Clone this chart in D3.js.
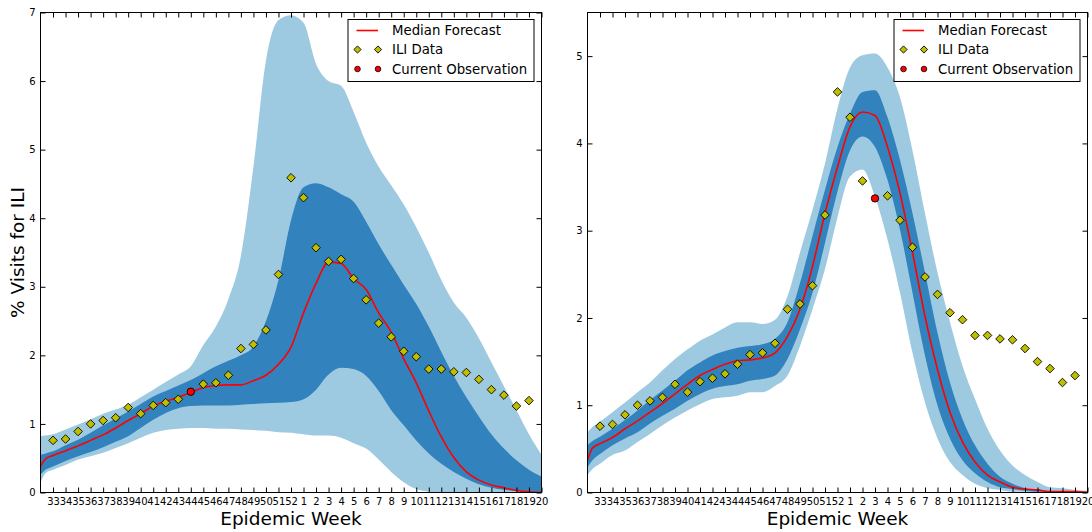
<!DOCTYPE html>
<html>

<head>
    <meta http-equiv="Content-Type" content="text/html;" charset="utf-8">
    <script type="text/javascript" src="https://cdn.jsdelivr.net/npm/d3@7/dist/d3.min.js"></script>
    <style>
        body { margin: 0; background: #fff; }
        text { font-family: "DejaVu Sans", sans-serif; }
    </style>
</head>

<body>
    <div class="chart-div"></div>
    <script type="text/javascript">

        var width = 1092;
        var height = 532;

        //--------------------------------------------DATA

        var weekLabels = ["33", "34", "35", "36", "37", "38", "39", "40", "41", "42", "43", "44", "45", "46",
            "47", "48", "49", "50", "51", "52", "1", "2", "3", "4", "5", "6", "7", "8", "9", "10", "11", "12",
            "13", "14", "15", "16", "17", "18", "19", "20"];

        // ILI data, weeks 33 .. 19
        var iliData = [0.76, 0.78, 0.89, 1.00, 1.05, 1.09, 1.24, 1.15, 1.27, 1.31, 1.36, 1.47, 1.58, 1.60,
            1.71, 2.10, 2.16, 2.37, 3.18, 4.59, 4.30, 3.57, 3.37, 3.40, 3.12, 2.81, 2.47, 2.27, 2.06, 1.98,
            1.80, 1.80, 1.76, 1.75, 1.65, 1.50, 1.42, 1.26, 1.34];

        // positions of the forecast samples, in weeks from week 33
        var bandPos = [-1, -0.6, 0, 1, 2, 3, 4, 5, 6, 7, 8, 9, 10, 11, 12, 13, 14, 15, 16, 17, 18, 19, 20,
            21, 22, 23, 24, 25, 26, 27, 28, 29, 30, 31, 32, 33, 34, 35, 36, 37, 38, 39];

        // left panel (forecast from week 44)
        var leftCurrent = 11;
        var leftLow90 = [0.14, 0.28, 0.33, 0.40, 0.48, 0.53, 0.58, 0.65, 0.72, 0.80, 0.87, 0.91, 0.93, 0.94,
            0.94, 0.93, 0.93, 0.92, 0.91, 0.90, 0.88, 0.87, 0.85, 0.83, 0.83, 0.80, 0.72, 0.64, 0.48, 0.30,
            0.15, 0.05, 0.01, 0, 0, 0, 0, 0, 0, 0, 0, 0];
        var leftLow50 = [0.26, 0.33, 0.38, 0.46, 0.53, 0.59, 0.66, 0.74, 0.82, 0.94, 1.06, 1.16, 1.23, 1.26,
            1.27, 1.27, 1.27, 1.28, 1.29, 1.30, 1.31, 1.32, 1.36, 1.50, 1.72, 1.82, 1.80, 1.70, 1.48, 1.20,
            0.98, 0.76, 0.57, 0.42, 0.30, 0.20, 0.12, 0.07, 0.04, 0.02, 0.01, 0.00];
        var leftMedian = [0.38, 0.49, 0.54, 0.61, 0.68, 0.76, 0.84, 0.94, 1.05, 1.15, 1.26, 1.33, 1.39, 1.46,
            1.53, 1.56, 1.57, 1.57, 1.63, 1.71, 1.87, 2.12, 2.62, 3.05, 3.36, 3.34, 3.12, 2.96, 2.62, 2.34,
            1.95, 1.60, 1.19, 0.81, 0.51, 0.30, 0.18, 0.11, 0.07, 0.03, 0.01, 0.00];
        var leftHigh50 = [0.55, 0.57, 0.60, 0.69, 0.77, 0.87, 0.98, 1.08, 1.18, 1.29, 1.40, 1.48, 1.56, 1.64,
            1.74, 1.84, 1.92, 2.00, 2.13, 2.50, 3.10, 3.97, 4.45, 4.51, 4.45, 4.35, 4.24, 3.95, 3.62, 3.32,
            3.03, 2.75, 2.42, 2.05, 1.70, 1.39, 1.11, 0.85, 0.64, 0.47, 0.33, 0.23];
        var leftHigh90 = [0.82, 0.83, 0.85, 0.92, 0.99, 1.07, 1.15, 1.21, 1.28, 1.39, 1.50, 1.61, 1.72, 1.84,
            2.15, 2.42, 2.82, 3.45, 4.75, 6.30, 6.89, 6.96, 6.85, 6.25, 6.00, 5.93, 5.55, 5.10, 4.75, 4.48,
            4.20, 3.87, 3.50, 3.10, 2.77, 2.55, 2.25, 1.90, 1.55, 1.20, 0.85, 0.55];

        // right panel (forecast from week 3)
        var rightCurrent = 22;
        var rightLow90 = [0.20, 0.27, 0.33, 0.43, 0.48, 0.58, 0.67, 0.77, 0.86, 0.94, 1.01, 1.07, 1.09, 1.11,
            1.15, 1.15, 1.22, 1.34, 1.68, 2.10, 2.56, 3.15, 3.62, 3.70, 3.39, 2.90, 2.29, 1.60, 1.03, 0.62,
            0.35, 0.20, 0.10, 0.05, 0.03, 0.01, 0.01, 0, 0, 0, 0, 0];
        var rightLow50 = [0.29, 0.37, 0.44, 0.54, 0.62, 0.69, 0.79, 0.88, 0.96, 1.05, 1.13, 1.19, 1.22, 1.24,
            1.28, 1.30, 1.34, 1.53, 1.87, 2.29, 2.86, 3.45, 3.92, 4.08, 3.96, 3.58, 3.01, 2.29, 1.57, 1.00,
            0.62, 0.37, 0.22, 0.12, 0.06, 0.04, 0.02, 0.01, 0.01, 0, 0, 0];
        var rightMedian = [0.37, 0.51, 0.56, 0.63, 0.73, 0.82, 0.92, 1.02, 1.13, 1.24, 1.34, 1.41, 1.47, 1.51,
            1.52, 1.54, 1.60, 1.79, 2.10, 2.59, 3.20, 3.73, 4.19, 4.36, 4.32, 3.96, 3.43, 2.75, 2.02, 1.41,
            0.92, 0.58, 0.35, 0.20, 0.12, 0.06, 0.04, 0.03, 0.01, 0.01, 0.01, 0];
        var rightHigh50 = [0.54, 0.59, 0.64, 0.73, 0.83, 0.94, 1.06, 1.17, 1.28, 1.40, 1.49, 1.57, 1.62, 1.66,
            1.68, 1.70, 1.76, 1.95, 2.40, 2.94, 3.47, 3.96, 4.34, 4.59, 4.61, 4.30, 3.81, 3.20, 2.52, 1.83,
            1.26, 0.84, 0.54, 0.33, 0.18, 0.10, 0.05, 0.03, 0.02, 0.01, 0.01, 0.01];
        var rightHigh90 = [0.69, 0.75, 0.81, 0.92, 1.03, 1.15, 1.26, 1.40, 1.53, 1.64, 1.74, 1.81, 1.89, 1.95,
            1.95, 1.93, 1.98, 2.25, 2.75, 3.24, 3.77, 4.40, 4.87, 5.01, 5.03, 4.87, 4.53, 3.92, 3.20, 2.52,
            1.95, 1.45, 1.07, 0.73, 0.48, 0.31, 0.20, 0.12, 0.06, 0.05, 0.03, 0.02];

        var leftYTicks = [0, 1, 2, 3, 4, 5, 6, 7];
        var rightYTicks = [0, 1, 2, 3, 4, 5];

        var legendLabels = ["Median Forecast", "ILI Data", "Current Observation"];

        //--------------------------------------------CONTAINERS

        var svg = d3.select("div.chart-div")
            .append("svg")
            .attr("width", width)
            .attr("height", height);

        var lightBlue = "#9ecae1";
        var darkBlue = "#3182bd";
        var iliColor = "#bfbf00";

        function rows(lo90, lo50, med, hi50, hi90) {
            return bandPos.map(function (p, k) {
                return { pos: p, lo90: lo90[k], lo50: lo50[k], med: med[k], hi50: hi50[k], hi90: hi90[k] };
            });
        }

        function diamond(r) {
            return "M0," + (-r) + "L" + r + ",0L0," + r + "L" + (-r) + ",0Z";
        }

        function drawPanel(id, left, right, yMax, yTicks, data, current) {
            var top = 12.5, bottom = 492.5;

            var x = d3.scaleLinear().domain([-1, 39]).range([left, right]);
            var y = d3.scaleLinear().domain([0, yMax]).range([bottom, top]);

            var g = svg.append("g");

            svg.append("clipPath").attr("id", "clip" + id)
                .append("rect")
                .attr("x", left).attr("y", top)
                .attr("width", right - left).attr("height", bottom - top);

            var plot = g.append("g").attr("clip-path", "url(#clip" + id + ")");

            //------------------------------------------ BANDS

            var area90 = d3.area()
                .curve(d3.curveMonotoneX)
                .x(function (d) { return x(d.pos); })
                .y0(function (d) { return y(d.lo90); })
                .y1(function (d) { return y(d.hi90); });

            var area50 = d3.area()
                .curve(d3.curveMonotoneX)
                .x(function (d) { return x(d.pos); })
                .y0(function (d) { return y(d.lo50); })
                .y1(function (d) { return y(d.hi50); });

            var medLine = d3.line()
                .curve(d3.curveMonotoneX)
                .x(function (d) { return x(d.pos); })
                .y(function (d) { return y(d.med); });

            plot.append("path").attr("fill", lightBlue).attr("d", area90(data));
            plot.append("path").attr("fill", darkBlue).attr("d", area50(data));
            plot.append("path")
                .attr("fill", "none")
                .attr("stroke", "#ff0000")
                .attr("stroke-width", 1.6)
                .attr("d", medLine(data));

            //------------------------------------------ POINTS

            plot.selectAll("path.ili")
                .data(iliData.map(function (v, i) { return { i: i, v: v }; })
                    .filter(function (d) { return d.i !== current; }))
                .enter().append("path")
                .attr("class", "ili")
                .attr("d", diamond(4.3))
                .attr("transform", function (d) { return "translate(" + x(d.i) + "," + y(d.v) + ")"; })
                .attr("fill", iliColor)
                .attr("stroke", "#000")
                .attr("stroke-width", 0.9);

            plot.append("circle")
                .attr("cx", x(current))
                .attr("cy", y(iliData[current]))
                .attr("r", 3.7)
                .attr("fill", "#ff0000")
                .attr("stroke", "#000")
                .attr("stroke-width", 0.9);

            //------------------------------------------ AXES

            var tickIdx = d3.range(weekLabels.length);

            var xAxis = d3.axisBottom(x).tickValues(tickIdx)
                .tickFormat(function (d) { return weekLabels[d]; })
                .tickSizeInner(-5).tickSizeOuter(0).tickPadding(5);
            var xTop = d3.axisTop(x).tickValues(tickIdx).tickFormat("")
                .tickSizeInner(-5).tickSizeOuter(0);
            var yAxis = d3.axisLeft(y).tickValues(yTicks).tickFormat(d3.format("d"))
                .tickSizeInner(-5).tickSizeOuter(0).tickPadding(5);
            var yRight = d3.axisRight(y).tickValues(yTicks).tickFormat("")
                .tickSizeInner(-5).tickSizeOuter(0);

            var axes = [
                g.append("g").attr("transform", "translate(0," + bottom + ")").call(xAxis),
                g.append("g").attr("transform", "translate(0," + top + ")").call(xTop),
                g.append("g").attr("transform", "translate(" + left + ",0)").call(yAxis),
                g.append("g").attr("transform", "translate(" + right + ",0)").call(yRight)
            ];
            axes.forEach(function (a) {
                a.select(".domain").remove();
                a.selectAll("line").attr("stroke", "#000");
                a.selectAll("text").attr("font-size", 10).attr("fill", "#000")
                    .attr("font-family", "DejaVu Sans, sans-serif");
            });

            g.append("rect")
                .attr("x", left).attr("y", top)
                .attr("width", right - left).attr("height", bottom - top)
                .attr("fill", "none")
                .attr("stroke", "#000")
                .attr("stroke-width", 1);

            g.append("text")
                .attr("x", (left + right) / 2)
                .attr("y", 525)
                .style("text-anchor", "middle")
                .attr("font-size", 18.5)
                .style("fill", "#000")
                .text("Epidemic Week");

            //------------------------------------------ LEGEND

            var lx = right - 193.5, ly = 19.5;
            var leg = g.append("g").attr("transform", "translate(" + lx + "," + ly + ")");
            leg.append("rect")
                .attr("width", 186).attr("height", 62)
                .attr("fill", "#fff")
                .attr("stroke", "#000")
                .attr("stroke-width", 1);

            var rowY = [11, 30, 49.5];
            leg.append("line")
                .attr("x1", 8.5).attr("x2", 30)
                .attr("y1", rowY[0]).attr("y2", rowY[0])
                .attr("stroke", "#ff0000").attr("stroke-width", 1.6);
            [9.5, 30].forEach(function (mx) {
                leg.append("path")
                    .attr("d", diamond(3.6))
                    .attr("transform", "translate(" + mx + "," + rowY[1] + ")")
                    .attr("fill", iliColor).attr("stroke", "#000").attr("stroke-width", 0.9);
                leg.append("circle")
                    .attr("cx", mx).attr("cy", rowY[2]).attr("r", 2.8)
                    .attr("fill", "#ff0000").attr("stroke", "#000").attr("stroke-width", 0.8);
            });
            leg.selectAll("text.lab")
                .data(legendLabels)
                .enter().append("text")
                .attr("class", "lab")
                .attr("x", 44)
                .attr("y", function (d, i) { return rowY[i] + 4.8; })
                .attr("font-size", 13.3)
                .style("fill", "#000")
                .text(function (d) { return d; });
        }

        drawPanel("L", 40.5, 541.5, 7, leftYTicks,
            rows(leftLow90, leftLow50, leftMedian, leftHigh50, leftHigh90), leftCurrent);
        drawPanel("R", 587.5, 1087.5, 5.5, rightYTicks,
            rows(rightLow90, rightLow50, rightMedian, rightHigh50, rightHigh90), rightCurrent);

        svg.append("text")
            .attr("transform", "translate(24,252.5) rotate(-90)")
            .style("text-anchor", "middle")
            .attr("font-size", 18.5)
            .style("fill", "#000")
            .text("% Visits for ILI");

    </script>

</body>

</html>
